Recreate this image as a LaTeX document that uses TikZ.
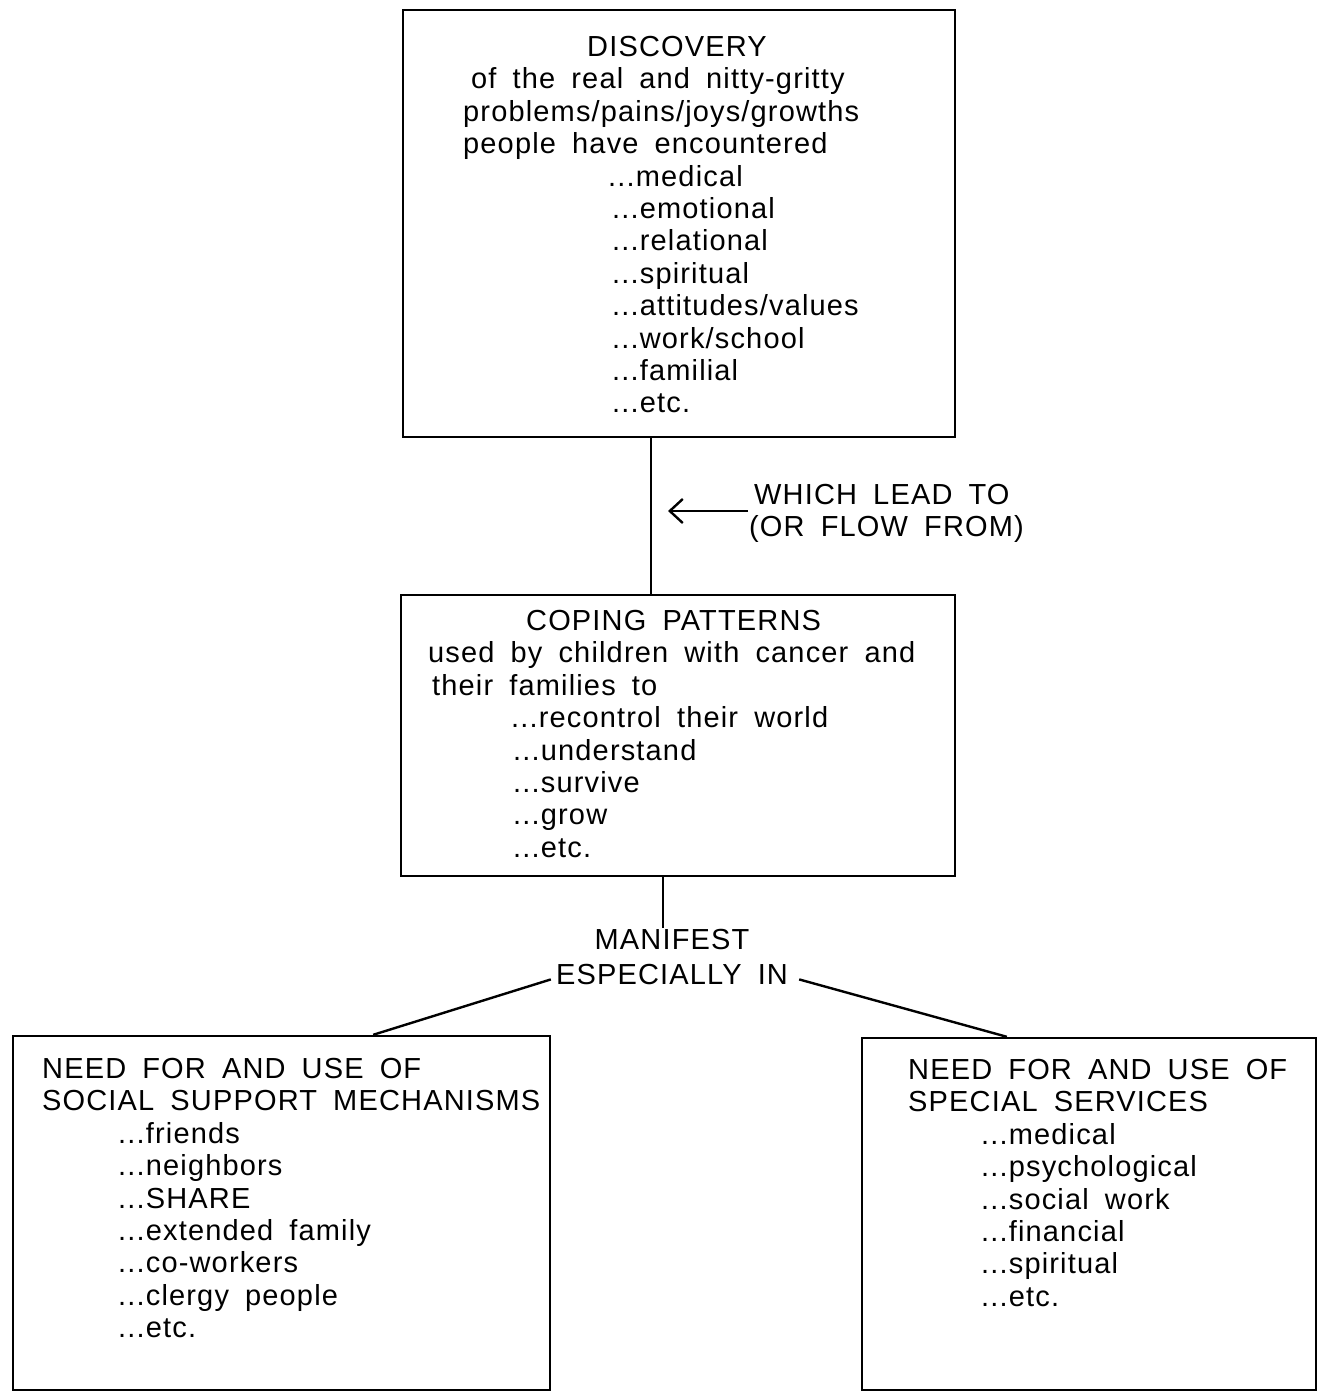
\documentclass[tikz,border=0pt]{standalone}
\usepackage{fontspec}
\setmainfont{Liberation Sans}[LetterSpace=4, WordSpace=1.75]
\usetikzlibrary{positioning,arrows.meta,calc}

\begin{document}
\begin{tikzpicture}[x=0.5pt, y=-0.5pt, line width=1.2pt,
  every node/.style={font=\fontsize{14.5}{16.2}\selectfont, inner sep=0pt},
  box/.style={draw, line width=1.2pt, rectangle},
  listtext/.style={align=left, anchor=north west}]
  \useasboundingbox (0,0) rectangle (1324,1398);
  % the four boxes
  \node[box, minimum width=276pt, minimum height=213.5pt] (disc) at (679,223.5) {};
  \node[box, minimum width=277pt, minimum height=140.5pt] (cope) at (678,735.5) {};
  \node[box, minimum width=268.5pt, minimum height=177pt] (soc) at (281.5,1213) {};
  \node[box, minimum width=227pt, minimum height=176pt] (serv) at (1089,1214) {};
  % texts inside the boxes
  \node[listtext] (disctxt) at (462,35) {\hspace*{62pt}DISCOVERY\\
    \hspace*{4pt}of the real and nitty-gritty\\
    problems/pains/joys/growths\\
    people have encountered\\
    \hspace*{72.5pt}...medical\\
    \hspace*{74.5pt}...emotional\\
    \hspace*{74.5pt}...relational\\
    \hspace*{74.5pt}...spiritual\\
    \hspace*{74.5pt}...attitudes/values\\
    \hspace*{74.5pt}...work/school\\
    \hspace*{74.5pt}...familial\\
    \hspace*{74.5pt}...etc.};
  \node[listtext] (copetxt) at (427,609) {\hspace*{49pt}COPING PATTERNS\\
    used by children with cancer and\\
    \hspace*{2pt}their families to\\
    \hspace*{41.5pt}...recontrol their world\\
    \hspace*{42.5pt}...understand\\
    \hspace*{42.5pt}...survive\\
    \hspace*{42.5pt}...grow\\
    \hspace*{42.5pt}...etc.};
  \node[listtext] (soctxt) at (41,1057) {NEED FOR AND USE OF\\
    SOCIAL SUPPORT MECHANISMS\\
    \hspace*{38pt}...friends\\
    \hspace*{38pt}...neighbors\\
    \hspace*{38pt}...SHARE\\
    \hspace*{38pt}...extended family\\
    \hspace*{38pt}...co-workers\\
    \hspace*{38pt}...clergy people\\
    \hspace*{38pt}...etc.};
  \node[listtext] (servtxt) at (907,1058) {NEED FOR AND USE OF\\
    SPECIAL SERVICES\\
    \hspace*{36.5pt}...medical\\
    \hspace*{36.5pt}...psychological\\
    \hspace*{36.5pt}...social work\\
    \hspace*{36.5pt}...financial\\
    \hspace*{36.5pt}...spiritual\\
    \hspace*{36.5pt}...etc.};
  % labels between the boxes
  \node[listtext] (lead) at (748,483) {\hspace*{2.5pt}WHICH LEAD TO\\(OR FLOW FROM)};
  \node[anchor=north] (manif) at (672,928) {MANIFEST};
  \node[below=6pt of manif] (espec) {ESPECIALLY IN};
  % connectors
  \coordinate (d1) at ($(disc.south west)!0.449!(disc.south east)$);
  \draw (d1) -- (d1 |- cope.north);
  \coordinate (tip) at (668,511);
  \draw[-{Straight Barb[length=6.5pt,width=12pt]}] (lead.west |- tip) -- (tip);
  \coordinate (c1) at ($(cope.south west)!0.473!(cope.south east)$);
  \draw (c1) -- (c1 |- manif.north);
  \draw ([xshift=-2pt,yshift=-2.5pt]espec.west) -- ($(soc.north west)!0.67!(soc.north east)$);
  \draw ([xshift=5pt,yshift=-2.5pt]espec.east) -- ($(serv.north west)!0.32!(serv.north east)$);
\end{tikzpicture}
\end{document}
